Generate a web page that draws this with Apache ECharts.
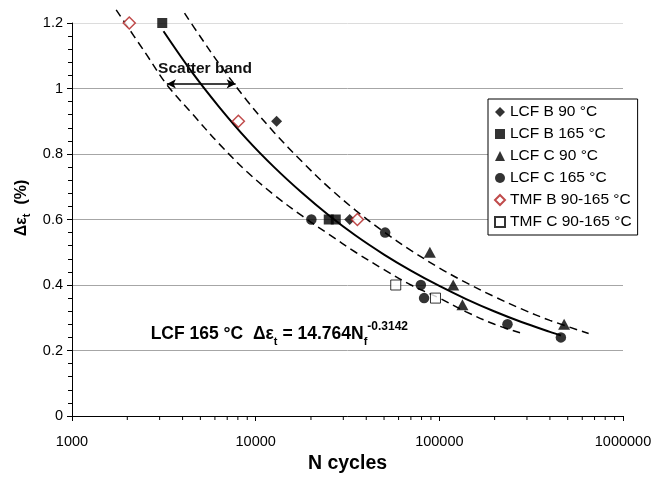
<!DOCTYPE html>
<html>
<head>
<meta charset="utf-8">
<script src="https://cdn.jsdelivr.net/npm/echarts@6/dist/echarts.min.js"></script>
<style>
html,body{margin:0;padding:0;background:#fff;}
#c{width:656px;height:479px;}
</style>
</head>
<body>
<div id="c"></div>
<script>
// ---- data ----
const lcfB90N = [13000, 32500];
const lcfB90V = [0.9, 0.6];
const lcfB165N = [3100, 25000, 27300];
const lcfB165V = [1.2, 0.6, 0.6];
const lcfC90N = [88800, 119000, 133600, 478000];
const lcfC90V = [0.5, 0.4, 0.34, 0.28];
const lcfC165N = [20100, 50700, 79300, 82600, 235000, 459000];
const lcfC165V = [0.6, 0.56, 0.4, 0.36, 0.28, 0.24];
const tmfBN = [2050, 8050, 35800];
const tmfBV = [1.2, 0.9, 0.6];
const tmfCN = [57900, 95300];
const tmfCV = [0.4, 0.36];

// fit curve (LCF 165 °C) and scatter band
const fitN = [3150, 4500, 6300, 9000, 12600, 18000, 25000, 35000, 50000, 70000, 100000, 140000, 200000, 280000, 400000, 460000];
const fitV = [1.175, 1.05, 0.945, 0.844, 0.76, 0.68, 0.613, 0.551, 0.493, 0.444, 0.397, 0.357, 0.319, 0.287, 0.257, 0.246];
const upperN = [4100, 5000, 6300, 9000, 12600, 18000, 25000, 35000, 50000, 70000, 100000, 140000, 200000, 280000, 400000, 650000];
const upperV = [1.23, 1.158, 1.077, 0.962, 0.866, 0.775, 0.698, 0.628, 0.562, 0.506, 0.452, 0.407, 0.364, 0.327, 0.292, 0.252];
const lowerN = [1740, 2500, 3300, 4500, 6300, 9000, 12600, 18000, 25000, 35000, 50000, 70000, 100000, 140000, 200000, 275000];
const lowerV = [1.24, 1.11, 1.01, 0.924, 0.832, 0.745, 0.675, 0.61, 0.555, 0.50, 0.447, 0.40, 0.36, 0.318, 0.28, 0.254];

// scatter band arrow (data coordinates)
const arrowFromN = 3285, arrowToN = 7780, arrowLevel = 1.014;

// axis ticks
const xMin = 1000, xMax = 1000000;
const xMinorTicks = [2000,3000,4000,5000,6000,7000,8000,9000,
  20000,30000,40000,50000,60000,70000,80000,90000,
  200000,300000,400000,500000,600000,700000,800000,900000];
const yMin = 0, yMax = 1.2, yStep = 0.2;

const legendNames = ['LCF B 90 °C','LCF B 165 °C','LCF C 90 °C','LCF C 165 °C','TMF B 90-165 °C','TMF C 90-165 °C'];

const zip = (a, b) => a.map((v, i) => [v, b[i]]);
const FONT = "'Liberation Sans', Arial, Helvetica, sans-serif";

const chart = echarts.init(document.getElementById('c'), null, {renderer: 'canvas'});

const lineBase = {type: 'line', smooth: 0.35, showSymbol: false, clip: false, silent: true, z: 3};

const option = {
  animation: false,
  backgroundColor: '#fff',
  textStyle: {fontFamily: FONT, color: '#000'},
  grid: {left: 72, right: 33, top: 23, bottom: 63},
  xAxis: {
    type: 'log', logBase: 10, min: xMin, max: xMax,
    axisLine: {lineStyle: {color: '#000', width: 1}},
    axisTick: {show: true, length: 5, lineStyle: {color: '#000'}},
    axisLabel: {color: '#000', fontSize: 14.5, fontFamily: FONT, margin: 18,
      formatter: v => String(Math.round(v))},
    splitLine: {show: false},
    name: 'N cycles', nameLocation: 'middle', nameGap: 38,
    nameTextStyle: {fontSize: 19.5, fontWeight: 'bold', color: '#000', fontFamily: FONT}
  },
  yAxis: {
    type: 'value', min: yMin, max: yMax, interval: yStep,
    axisLine: {show: true, lineStyle: {color: '#000', width: 1}},
    axisTick: {show: true, length: 5, lineStyle: {color: '#000'}},
    minorTick: {show: true, splitNumber: 5, length: 4, lineStyle: {color: '#000'}},
    axisLabel: {color: '#000', fontSize: 14.5, fontFamily: FONT, margin: 9},
    splitLine: {show: true, lineStyle: {color: ['#a6a6a6','#a6a6a6','#a6a6a6','#a6a6a6','#a6a6a6','#a6a6a6','#dcdcdc'], width: 1}}
  },
  legend: {
    orient: 'vertical', left: 488, top: 99,
    padding: [5, 6, 5, 6], itemGap: 6, itemWidth: 10, itemHeight: 10, itemTextGap: 5,
    borderColor: '#000', borderWidth: 1, backgroundColor: '#fff',
    textStyle: {fontSize: 15.5, color: '#000', fontFamily: FONT, lineHeight: 15.5},
    data: legendNames
  },
  graphic: [
    {type: 'text', x: 205, y: 69, z: 100,
      style: {text: 'Scatter band', font: "bold 15.5px " + FONT, fill: '#111', align: 'center', verticalAlign: 'middle'}},
    {type: 'text', x: 408, y: 334, z: 100,
      style: {
        text: '{b|LCF 165 °C  Δε}{s|t}{b| = 14.764N}{s|f}{p|-0.3142}',
        verticalAlign: 'middle', align: 'right',
        rich: {
          b: {font: "bold 17.5px " + FONT, fill: '#000', lineHeight: 26},
          s: {font: "bold 11px " + FONT, fill: '#000', lineHeight: 11, verticalAlign: 'bottom'},
          p: {font: "bold 12px " + FONT, fill: '#000', lineHeight: 12, verticalAlign: 'top'}
        }
      }},
    {type: 'text', x: 22, y: 208, rotation: Math.PI / 2, z: 100,
      style: {
        text: '{b|Δε}{s|t}{b|  (%)}',
        align: 'center', verticalAlign: 'middle',
        rich: {
          b: {font: "bold 16px " + FONT, fill: '#000', lineHeight: 20},
          s: {font: "bold 11px " + FONT, fill: '#000', lineHeight: 11, verticalAlign: 'bottom'}
        }
      }}
  ],
  series: [
    {
      type: 'custom', name: 'minorX', silent: true, clip: false, z: 5,
      data: xMinorTicks.map(v => [v, yMin]),
      renderItem: function (params, api) {
        const p = api.coord([api.value(0), yMin]);
        return {type: 'line', shape: {x1: p[0], y1: p[1], x2: p[0], y2: p[1] + 4},
          style: {stroke: '#000', lineWidth: 1}};
      }
    },
    Object.assign({}, lineBase, {
      name: 'fit', data: zip(fitN, fitV),
      lineStyle: {color: '#000', width: 2},
      markLine: {
        silent: true, symbol: ['arrow', 'arrow'], symbolSize: [7, 9],
        label: {show: false},
        lineStyle: {color: '#000', width: 1.5, type: 'solid'},
        data: [[{coord: [arrowFromN, arrowLevel]}, {coord: [arrowToN, arrowLevel]}]]
      }
    }),
    Object.assign({}, lineBase, {
      name: 'upper', data: zip(upperN, upperV),
      lineStyle: {color: '#000', width: 1.5, type: [8, 5]}
    }),
    Object.assign({}, lineBase, {
      name: 'lower', data: zip(lowerN, lowerV),
      lineStyle: {color: '#000', width: 1.5, type: [8, 5]}
    }),
    {type: 'scatter', name: legendNames[0], data: zip(lcfB90N, lcfB90V), symbol: 'diamond', symbolSize: 11, z: 10,
      itemStyle: {color: '#000'}},
    {type: 'scatter', name: legendNames[1], data: zip(lcfB165N, lcfB165V), symbol: 'rect', symbolSize: 10, z: 10,
      itemStyle: {color: '#000'}},
    {type: 'scatter', name: legendNames[2], data: zip(lcfC90N, lcfC90V), symbol: 'triangle', symbolSize: [12, 11], z: 10,
      itemStyle: {color: '#000'}},
    {type: 'scatter', name: legendNames[3], data: zip(lcfC165N, lcfC165V), symbol: 'circle', symbolSize: 10.5, z: 10,
      itemStyle: {color: '#000'}},
    {type: 'scatter', name: legendNames[4], data: zip(tmfBN, tmfBV), symbol: 'diamond', symbolSize: 12, z: 10,
      itemStyle: {color: '#fff', borderColor: '#b01e1e', borderWidth: 1.5}},
    {type: 'scatter', name: legendNames[5], data: zip(tmfCN, tmfCV), symbol: 'rect', symbolSize: 10, z: 10,
      itemStyle: {color: '#fff', borderColor: '#000', borderWidth: 1}}
  ]
};
chart.setOption(option);
</script>
</body>
</html>
